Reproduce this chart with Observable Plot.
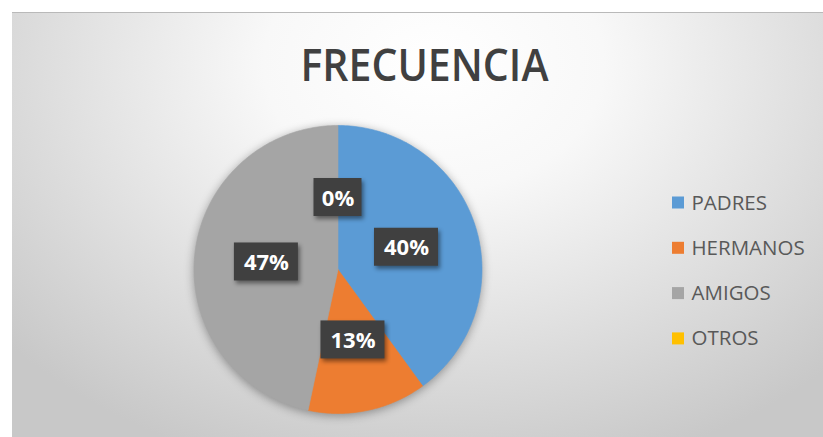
<!DOCTYPE html>
<html><head><meta charset="utf-8">
<script src="https://cdn.jsdelivr.net/npm/d3@7"></script>
<script src="https://cdn.jsdelivr.net/npm/@observablehq/plot@0.6"></script>
<style>
html,body{margin:0;padding:0;background:#fff;}
#wrap{position:relative;width:823px;height:437px;overflow:hidden;}
#frame{position:absolute;left:12px;top:12px;right:0;bottom:0;
 background: radial-gradient(ellipse 70% 100% at 52% 12%, #ffffff 0%, #f8f8f8 30%, #e0e0e0 65%, #c8c8c8 100%);
 border-top:1px solid #b9b9b9;}
#chart{position:absolute;left:0;top:0;}
</style></head><body>
<div id="wrap"><div id="frame"></div><div id="chart"></div></div>
<script>
const title = "FRECUENCIA";
const categories = ["PADRES", "HERMANOS", "AMIGOS", "OTROS"];
const values = [6, 2, 7, 0];
const colors = ["#5B9BD5", "#ED7D31", "#A5A5A5", "#FFC000"];

const W = 823, H = 437;
const cx = 337.5, cy = 269, R = 144;
const total = d3.sum(values);
const rows = categories.map((c, i) => ({cat: c, value: values[i]}));
const arcs = d3.pie().sort(null).value(d => d.value)(rows);

// slice outlines
const slicePts = [];
arcs.forEach(a => {
  if (a.endAngle - a.startAngle <= 0) return;
  const n = Math.max(2, Math.ceil((a.endAngle - a.startAngle) / (Math.PI / 180)));
  slicePts.push({cat: a.data.cat, x: cx, y: cy});
  for (let i = 0; i <= n; i++) {
    const t = a.startAngle + (a.endAngle - a.startAngle) * i / n;
    slicePts.push({cat: a.data.cat, x: cx + R * Math.sin(t), y: cy - R * Math.cos(t)});
  }
  slicePts.push({cat: a.data.cat, x: cx, y: cy});
});

// data labels
const arcGen = d3.arc().innerRadius(0).outerRadius(R);
const labelRows = arcs.map(a => {
  const [dx, dy] = arcGen.centroid(a);
  const label = Math.round(a.data.value / total * 100) + "%";
  return {label, lx: cx + dx, ly: cy + dy, w: 16 * label.length + 16, h: 38};
});

// legend rows
const legendRows = categories.map((c, i) => ({cat: c, ly: 202.5 + i * 45.3}));

const chart = Plot.plot({
  width: W, height: H,
  margin: 0,
  x: {domain: [0, W], range: [0, W], axis: null},
  y: {domain: [0, H], range: [0, H], axis: null},
  color: {domain: categories, range: colors},
  style: {background: "transparent", fontFamily: "'Open Sans', sans-serif", overflow: "visible"},
  marks: [
    Plot.line(slicePts, {x: "x", y: "y", z: "cat", fill: "cat", stroke: "cat", strokeWidth: 0.6, curve: "linear"}),
    Plot.rect(labelRows, {x1: d => d.lx - d.w / 2, x2: d => d.lx + d.w / 2, y1: d => d.ly - d.h / 2, y2: d => d.ly + d.h / 2, fill: "#404040"}),
    Plot.text(labelRows, {x: "lx", y: "ly", text: "label", fill: "white", fontSize: 22, fontWeight: "bold", dy: 1}),
    Plot.rect(legendRows, {x1: () => 672, x2: () => 684, y1: d => d.ly - 6, y2: d => d.ly + 6, fill: "cat"}),
    Plot.text(legendRows, {x: () => 691, y: "ly", text: "cat", textAnchor: "start", fill: "#595959", fontSize: 20.5}),
    Plot.text([title], {x: () => 424, y: () => 66, text: d => d, fontSize: 45, fontWeight: 600, fill: "#404040"})
  ]
});
document.getElementById("chart").appendChild(chart);

// visual effects
const groups = chart.querySelectorAll("g[aria-label]");
groups.forEach(g => {
  const lab = g.getAttribute("aria-label");
  if (lab === "line") g.style.filter = "drop-shadow(0px 2px 5px rgba(0,0,0,0.35))";
});
const rects = chart.querySelectorAll('g[aria-label="rect"]');
if (rects[0]) rects[0].style.filter = "drop-shadow(2px 3px 2px rgba(0,0,0,0.45))";
const texts = chart.querySelectorAll('g[aria-label="text"]');
const titleG = texts[texts.length - 1];
if (titleG) {
  const t = titleG.querySelector("text");
  t.setAttribute("textLength", 248);
  t.setAttribute("lengthAdjust", "spacingAndGlyphs");
}
</script>
</body></html>
